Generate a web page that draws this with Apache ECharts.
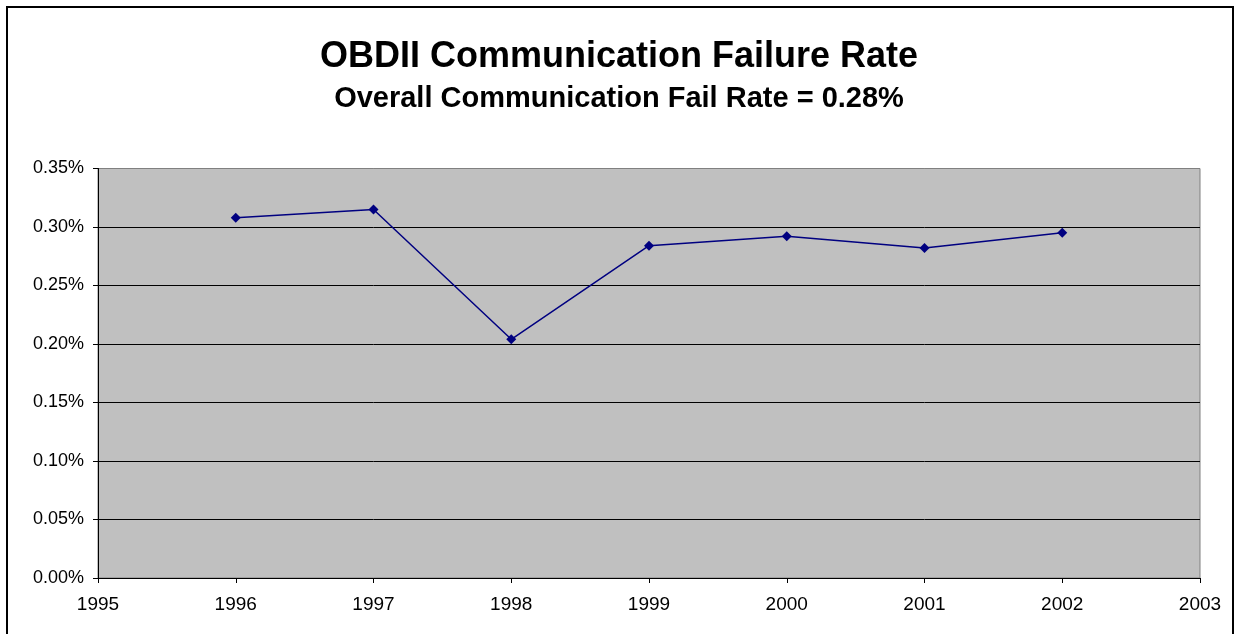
<!DOCTYPE html>
<html>
<head>
<meta charset="utf-8">
<script src="https://cdn.jsdelivr.net/npm/echarts@6/dist/echarts.min.js"></script>
<style>
  html, body { margin: 0; padding: 0; background: #fff; }
  #chart { width: 1238px; height: 634px; }
</style>
</head>
<body>
<div id="chart"></div>
<script>
// data (values in percent)
const years = [1996, 1997, 1998, 1999, 2000, 2001, 2002]
const failRate = [0.308, 0.315, 0.204, 0.284, 0.292, 0.282, 0.295]
const titleText = 'OBDII Communication Failure Rate'
const subText = 'Overall Communication Fail Rate = 0.28%'

const myChart = echarts.init(document.getElementById('chart'))

const option = {
    animation: false,
    backgroundColor: '#fff',
    title: {
        text: titleText,
        subtext: subText,
        left: 'center',
        top: 34,
        itemGap: 9,
        textStyle: {
            fontFamily: 'Liberation Sans',
            fontWeight: 'bold',
            fontSize: 36,
            color: '#000'
        },
        subtextStyle: {
            fontFamily: 'Liberation Sans',
            fontWeight: 'bold',
            fontSize: 29,
            color: '#000'
        }
    },
    // outer frame of the chart
    graphic: [{
        type: 'rect',
        shape: { x: 7, y: 7, width: 1226, height: 640 },
        style: { fill: 'none', stroke: '#000', lineWidth: 2 }
    }],
    grid: {
        left: 98,
        right: 38,
        top: 168.5,
        bottom: 56,
        show: true,
        backgroundColor: '#c0c0c0',
        borderColor: '#808080',
        borderWidth: 1
    },
    xAxis: {
        type: 'value',
        min: 1995,
        max: 2003,
        interval: 1,
        axisLine: { show: true, lineStyle: { color: '#000', width: 1 } },
        axisTick: { show: true, length: 5, lineStyle: { color: '#000' } },
        splitLine: { show: false },
        axisLabel: {
            margin: 17,
            fontFamily: 'Liberation Sans',
            fontSize: 19,
            color: '#000',
            formatter: v => String(v)
        }
    },
    yAxis: {
        type: 'value',
        min: 0,
        max: 0.35,
        interval: 0.05,
        axisLine: { show: true, lineStyle: { color: '#000', width: 1 } },
        axisTick: { show: true, length: 5, lineStyle: { color: '#000' } },
        splitLine: {
            show: true,
            // top line is the gray plot border
            lineStyle: { color: ['#000', '#000', '#000', '#000', '#000', '#000', '#000', '#808080'], width: 1 }
        },
        axisLabel: {
            margin: 14,
            fontFamily: 'Liberation Sans',
            fontSize: 18,
            color: '#000',
            formatter: v => v.toFixed(2) + '%'
        }
    },
    series: [{
        type: 'line',
        data: years.map((y, i) => [y, failRate[i]]),
        symbol: 'diamond',
        symbolSize: 10,
        lineStyle: { color: '#000080', width: 1.5 },
        itemStyle: { color: '#000080' }
    }]
}

myChart.setOption(option)
</script>
</body>
</html>
